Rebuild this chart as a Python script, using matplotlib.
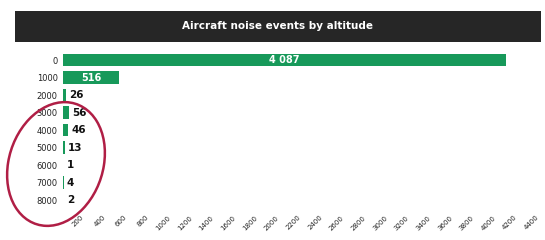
import matplotlib
matplotlib.use('Agg')
import matplotlib.pyplot as plt
from matplotlib.patches import Rectangle, Ellipse

# altitude bands (ft) and counts of noise events
altitudes = ['0', '1000', '2000', '3000', '4000', '5000', '6000', '7000', '8000']
events = [4087, 516, 26, 56, 46, 13, 1, 4, 2]
x_ticks = list(range(200, 4600, 200))

bar_color = '#17995a'

fig = plt.figure(figsize=(5.45, 2.4), dpi=100)

# dark title banner
fig.patches.append(Rectangle((0.028, 0.825), 0.965, 0.13, transform=fig.transFigure,
                             facecolor='#262626', edgecolor='none', zorder=0))
fig.text(0.51, 0.89, 'Aircraft noise events by altitude', color='white',
         ha='center', va='center', fontsize=7.5, fontweight='semibold')

ax = fig.add_axes([0.116, 0.13, 0.875, 0.656])
ypos = list(range(len(altitudes)))
ax.barh(ypos, events, height=0.7, color=bar_color)
ax.set_ylim(8.5, -0.5)
ax.set_xlim(0, 4400)

for y, v in zip(ypos, events):
    if v > 300:
        ax.text(v / 2, y, f'{v:,}'.replace(',', ' '), color='white', ha='center',
                va='center', fontsize=7, fontweight='bold')
    else:
        ax.text(v + 30, y, str(v), color='#111111', ha='left', va='center',
                fontsize=7.5, fontweight='bold')

ax.set_yticks(ypos)
ax.set_yticklabels(altitudes, fontsize=6, color='#222222')
ax.set_xticks(x_ticks)
ax.set_xticklabels([str(t) for t in x_ticks], fontsize=5, rotation=45,
                   ha='right', color='#222222')
ax.tick_params(length=0, pad=4)
for s in ax.spines.values():
    s.set_visible(False)

# red hand-drawn circle around the small bands
fig.patches.append(Ellipse((56 / 545, 1 - 164 / 240), 96 / 545, 124 / 240,
                           angle=-4, transform=fig.transFigure, fill=False,
                           edgecolor='#b01e45', linewidth=1.8, zorder=5))

fig.savefig('out.png', dpi=100)
